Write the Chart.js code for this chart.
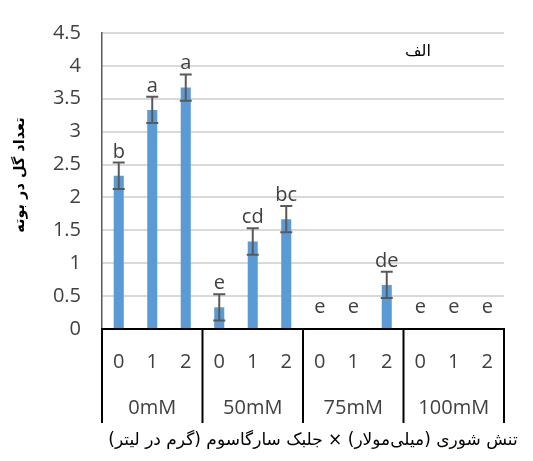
<!DOCTYPE html>
<html>
<head>
<meta charset="utf-8">
<script src="https://cdn.jsdelivr.net/npm/chart.js@4"></script>
<style>
  html, body { margin: 0; padding: 0; background: #fff; }
  canvas { display: block; }
</style>
</head>
<body>
<canvas id="flowerChart" width="533" height="461"></canvas>
<script>
// Data
const algaeLevels = ['0', '1', '2'];
const salinityGroups = ['0mM', '50mM', '75mM', '100mM'];
const flowerCounts = [2.33, 3.33, 3.67, 0.33, 1.33, 1.67, 0, 0, 0.67, 0, 0, 0];
const errorValues = [0.2, 0.2, 0.2, 0.2, 0.2, 0.2, 0, 0, 0.2, 0, 0, 0];
const letters = ['b', 'a', 'a', 'e', 'cd', 'bc', 'e', 'e', 'de', 'e', 'e', 'e'];
const yTitle = 'تعداد گل در بوته';
const xTitle = 'تنش شوری (میلی‌مولار) × جلبک سارگاسوم (گرم در لیتر)';
const panelLabel = 'الف';

const labels = [];
salinityGroups.forEach(g => algaeLevels.forEach(a => labels.push(g + ' ' + a)));

const digitFont = '20px "Open Sans", sans-serif';
const persianFont = '"DejaVu Sans", "Noto Sans", sans-serif';

// Draws error bars, letters, the boxed two-level x axis and the titles
const overlay = {
    id: 'overlay',
    afterDatasetsDraw(chart) {
        const ctx = chart.ctx;
        const x = chart.scales.x;
        const y = chart.scales.y;
        const area = chart.chartArea;
        const y0 = y.getPixelForValue(0);

        ctx.save();

        // error bars
        ctx.strokeStyle = '#595959';
        ctx.lineWidth = 2;
        flowerCounts.forEach((v, i) => {
            const e = errorValues[i];
            if (!e) return;
            const cx = x.getPixelForValue(i);
            const t = y.getPixelForValue(v + e);
            const b = y.getPixelForValue(v - e);
            ctx.beginPath();
            ctx.moveTo(cx, t); ctx.lineTo(cx, b);
            ctx.moveTo(cx - 6, t); ctx.lineTo(cx + 6, t);
            ctx.moveTo(cx - 6, b); ctx.lineTo(cx + 6, b);
            ctx.stroke();
        });

        // significance letters
        ctx.fillStyle = '#404040';
        ctx.font = digitFont;
        ctx.textAlign = 'center';
        ctx.textBaseline = 'alphabetic';
        letters.forEach((l, i) => {
            const e = errorValues[i];
            const top = y.getPixelForValue(flowerCounts[i] + e);
            ctx.fillText(l, x.getPixelForValue(i), e ? top - 5 : top - 16);
        });

        // x axis line and group boxes
        ctx.strokeStyle = '#000';
        ctx.lineWidth = 2;
        ctx.beginPath();
        ctx.moveTo(area.left, y0);
        ctx.lineTo(area.right, y0);
        for (let g = 0; g <= salinityGroups.length; g++) {
            const gx = x.getPixelForValue(g * 3 - 0.5);
            ctx.moveTo(gx, y0 - 1);
            ctx.lineTo(gx, y0 + 94);
        }
        ctx.stroke();

        ctx.fillStyle = '#404040';
        ctx.textBaseline = 'middle';
        labels.forEach((l, i) => {
            ctx.fillText(algaeLevels[i % 3], x.getPixelForValue(i), y0 + 33);
        });
        salinityGroups.forEach((g, gi) => {
            ctx.fillText(g, x.getPixelForValue(gi * 3 + 1), y0 + 79);
        });

        // titles
        ctx.fillStyle = '#000';
        ctx.font = '16px ' + persianFont;
        ctx.fillText(panelLabel, 418, 52);

        ctx.font = '17px ' + persianFont;
        ctx.fillText(xTitle, 313, 441);

        ctx.translate(20, 175);
        ctx.rotate(-Math.PI / 2);
        ctx.font = 'bold 14.5px ' + persianFont;
        ctx.fillText(yTitle, 0, 0);

        ctx.restore();
    }
};

const ctx = document.getElementById('flowerChart').getContext('2d');
new Chart(ctx, {
    type: 'bar',
    data: {
        labels: labels,
        datasets: [{
            data: flowerCounts,
            backgroundColor: '#5b9bd5',
            borderWidth: 0,
            barPercentage: 0.3,
            categoryPercentage: 1
        }]
    },
    options: {
        responsive: false,
        devicePixelRatio: 1,
        animation: false,
        layout: { padding: { top: 16, right: 29, left: 0, bottom: 0 } },
        plugins: {
            legend: { display: false },
            tooltip: { enabled: false }
        },
        scales: {
            x: {
                grid: { display: false },
                border: { display: false },
                ticks: { display: false },
                afterFit: scale => { scale.height = 132; }
            },
            y: {
                min: 0,
                max: 4.5,
                ticks: {
                    stepSize: 0.5,
                    color: '#404040',
                    font: { family: '"Open Sans", sans-serif', size: 20 },
                    padding: 21,
                    callback: v => String(v)
                },
                grid: { color: '#d9d9d9', lineWidth: 2, drawTicks: false },
                border: { display: true, color: '#595959', width: 1.5 },
                afterFit: scale => { scale.width = 102; }
            }
        }
    },
    plugins: [overlay]
});
</script>
</body>
</html>
